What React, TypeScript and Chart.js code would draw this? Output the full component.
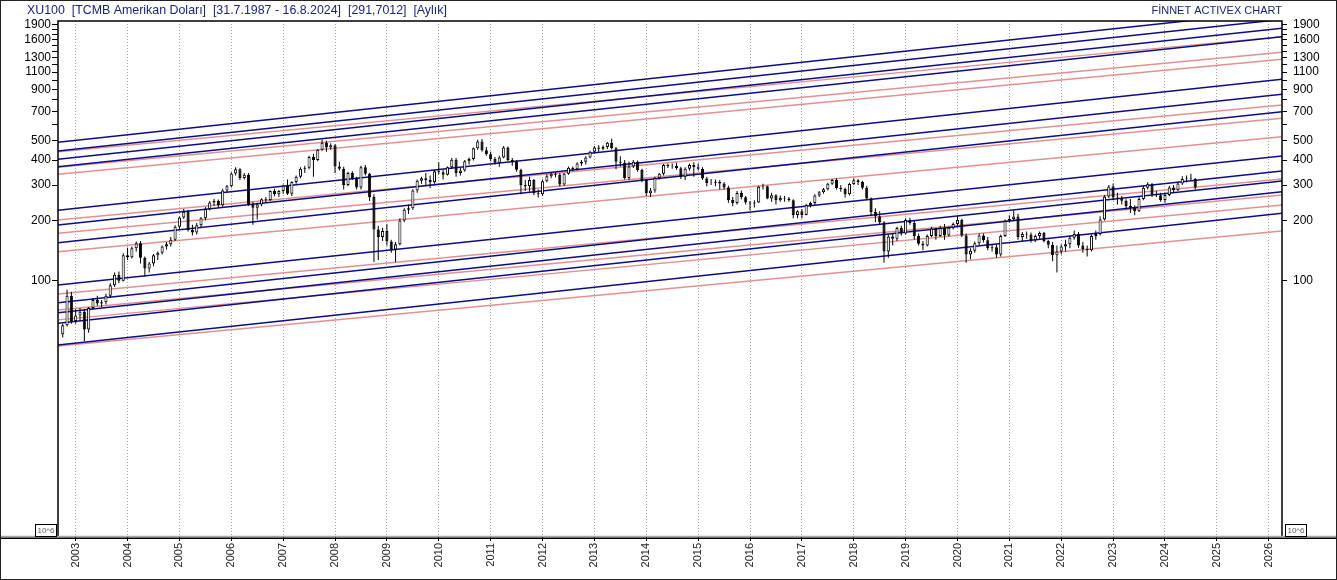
import React, { useEffect, useRef } from "react";
import { Chart, registerables } from "chart.js";

Chart.register(...registerables);

// monthly candles, first one is Oct 2002, last one Aug 2024
const firstYear = 2002;
const firstMonth = 10;

const opens = [
  54, 60, 84,
  63, 67, 70, 57, 73, 80, 77, 78, 84, 95, 107, 100,
  134, 131, 145, 154, 130, 115, 122, 134, 138, 148, 152, 160,
  186, 207, 221, 179, 174, 189, 205, 228, 246, 250, 238, 282,
  296, 343, 360, 326, 338, 241, 231, 240, 255, 253, 280, 270,
  280, 298, 272, 311, 330, 362, 366, 414, 400, 450, 488, 462,
  475, 372, 362, 300, 345, 325, 292, 368, 342, 262, 180, 165,
  177, 157, 143, 152, 200, 226, 230, 282, 315, 325, 318, 310,
  352, 348, 338, 368, 402, 345, 355, 395, 405, 458, 495, 448,
  428, 405, 388, 412, 462, 400, 392, 358, 300, 296, 318, 273,
  270, 314, 332, 342, 338, 302, 342, 366, 360, 385, 392, 412,
  440, 462, 456, 465, 488, 458, 392, 388, 326, 372, 392, 357,
  318, 273, 282, 326, 342, 378, 373, 374, 364, 330, 362, 378,
  368, 362, 324, 307, 308, 312, 306, 292, 253, 244, 274, 261,
  246, 243, 246, 294, 296, 257, 267, 252, 259, 257, 252, 213,
  222, 213, 239, 244, 266, 276, 286, 305, 318, 290, 287, 270,
  304, 317, 311, 291, 257, 220, 210, 196, 140, 166, 162, 183,
  172, 201, 194, 167, 153, 150, 167, 182, 167, 183, 168, 184,
  192, 201, 168, 135, 141, 154, 168, 159, 145, 147, 135, 167,
  199, 203, 209, 165, 171, 170, 159, 167, 173, 158, 151, 134,
  140, 148, 152, 164, 171, 150, 144, 142, 167, 171, 202, 263,
  295, 260, 259, 251, 236, 231, 222, 256, 291, 303, 270, 267,
  253, 268, 292, 283, 306, 322, 324, 322,
];

const highs = [
  61, 90, 88,
  72, 73, 72, 74, 82, 84, 80, 86, 97, 110, 111, 137,
  146, 148, 157, 158, 132, 124, 136, 140, 150, 156, 165, 189,
  209, 228, 226, 190, 194, 208, 233, 250, 256, 254, 288, 300,
  348, 368, 364, 345, 345, 248, 245, 258, 262, 283, 288, 284,
  302, 320, 314, 335, 368, 375, 420, 430, 455, 505, 500, 485,
  480, 392, 370, 350, 352, 330, 375, 378, 346, 270, 188, 184,
  192, 160, 156, 205, 230, 240, 286, 320, 330, 345, 335, 358,
  390, 358, 372, 410, 410, 365, 400, 412, 462, 505, 510, 465,
  440, 415, 420, 470, 468, 410, 400, 362, 318, 330, 322, 285,
  320, 340, 345, 348, 345, 345, 372, 372, 390, 400, 418, 445,
  470, 475, 475, 492, 512, 465, 418, 400, 392, 400, 398, 362,
  322, 290, 330, 345, 382, 385, 385, 388, 370, 368, 385, 390,
  385, 368, 330, 322, 320, 318, 310, 298, 262, 280, 282, 265,
  250, 252, 298, 305, 298, 275, 270, 266, 265, 262, 255, 225,
  228, 242, 248, 270, 280, 290, 308, 322, 325, 300, 292, 308,
  325, 322, 315, 298, 260, 230, 222, 198, 170, 172, 186, 188,
  205, 206, 200, 172, 158, 170, 186, 184, 188, 192, 186, 195,
  210, 204, 172, 145, 157, 172, 172, 165, 152, 152, 170, 202,
  212, 224, 216, 175, 176, 174, 170, 176, 175, 160, 156, 150,
  152, 160, 168, 178, 175, 156, 150, 170, 178, 210, 268, 300,
  305, 275, 265, 255, 256, 238, 262, 298, 310, 307, 280, 275,
  275, 298, 300, 312, 332, 335, 342, 326,
];

const lows = [
  52, 59, 61,
  61, 63, 50, 55, 72, 75, 74, 76, 82, 93, 97, 99,
  127, 129, 140, 122, 105, 110, 118, 127, 135, 143, 148, 158,
  180, 203, 176, 168, 170, 185, 200, 224, 236, 232, 234, 276,
  292, 335, 318, 320, 236, 190, 202, 235, 245, 250, 264, 262,
  272, 268, 265, 305, 325, 345, 360, 330, 395, 445, 440, 450,
  345, 355, 285, 296, 318, 285, 285, 335, 250, 124, 127, 158,
  150, 138, 124, 150, 196, 215, 226, 275, 305, 300, 290, 305,
  340, 320, 335, 362, 330, 335, 350, 380, 398, 450, 440, 420,
  395, 380, 370, 408, 395, 375, 350, 270, 280, 278, 268, 260,
  265, 310, 325, 328, 295, 298, 338, 352, 355, 375, 380, 408,
  435, 440, 448, 455, 452, 360, 372, 320, 318, 365, 350, 310,
  265, 262, 275, 320, 335, 365, 362, 358, 322, 318, 355, 330,
  355, 318, 295, 300, 296, 285, 285, 245, 235, 240, 255, 240,
  225, 232, 244, 285, 255, 248, 240, 248, 248, 248, 205, 205,
  205, 212, 232, 238, 262, 272, 282, 300, 285, 278, 260, 266,
  300, 300, 285, 252, 210, 196, 190, 123, 130, 150, 158, 168,
  170, 190, 160, 150, 142, 148, 165, 160, 165, 160, 166, 180,
  188, 165, 123, 128, 138, 150, 155, 142, 140, 130, 132, 165,
  195, 198, 160, 158, 162, 155, 156, 162, 155, 145, 125, 110,
  135, 140, 145, 160, 146, 138, 132, 140, 160, 168, 200, 258,
  252, 240, 240, 226, 218, 212, 220, 252, 285, 262, 262, 248,
  245, 265, 275, 280, 300, 310, 315, 285,
];

const closes = [
  60, 84, 63,
  67, 70, 57, 73, 80, 77, 78, 84, 95, 107, 100, 134,
  131, 145, 154, 130, 115, 122, 134, 138, 148, 152, 160, 186,
  207, 221, 179, 174, 189, 205, 228, 246, 250, 238, 282, 296,
  343, 360, 326, 338, 241, 231, 240, 255, 253, 280, 270, 280,
  298, 272, 311, 330, 362, 366, 414, 400, 450, 488, 462, 475,
  372, 362, 300, 345, 325, 292, 368, 342, 262, 180, 165, 177,
  157, 143, 152, 200, 226, 230, 282, 315, 325, 318, 310, 352,
  348, 338, 368, 402, 345, 355, 395, 405, 458, 495, 448, 428,
  405, 388, 412, 462, 400, 392, 358, 300, 296, 318, 273, 270,
  314, 332, 342, 338, 302, 342, 366, 360, 385, 392, 412, 440,
  462, 456, 465, 488, 458, 392, 388, 326, 372, 392, 357, 318,
  273, 282, 326, 342, 378, 373, 374, 364, 330, 362, 378, 368,
  362, 324, 307, 308, 312, 306, 292, 253, 244, 274, 261, 246,
  243, 246, 294, 296, 257, 267, 252, 259, 257, 252, 213, 222,
  213, 239, 244, 266, 276, 286, 305, 318, 290, 287, 270, 304,
  317, 311, 291, 257, 220, 210, 196, 140, 166, 162, 183, 172,
  201, 194, 167, 153, 150, 167, 182, 167, 183, 168, 184, 192,
  201, 168, 135, 141, 154, 168, 159, 145, 147, 135, 167, 199,
  203, 209, 165, 171, 170, 159, 167, 173, 158, 151, 134, 140,
  148, 152, 164, 171, 150, 144, 142, 167, 171, 202, 263, 295,
  260, 259, 251, 236, 231, 222, 256, 291, 303, 270, 267, 253,
  268, 292, 283, 306, 322, 324, 322, 292,
];

// channel lines, value at the left and at the right edge of the plot
const lineFrom = 2002.659;
const lineTo = 2026.256;
const blueStart = [490.9, 444.1, 403.7, 370.8, 224.6, 189.7, 154.8, 95.2, 77.7, 69.2, 61.3, 47.7];
const blueEnd = [2228, 2016, 1820, 1653, 1013, 852, 698, 419.4, 352.5, 314.7, 278.2, 217];
const redStart = [440.6, 368.3, 339.8, 201, 172.5, 139.5, 85.8, 71.4, 63.7, 47.2];
const redEnd = [1653, 1381, 1274, 754, 647, 523.5, 322, 267.9, 238.8, 177];

const yearTicks = [
  2003, 2004, 2005, 2006, 2007, 2008, 2009, 2010, 2011, 2012, 2013, 2014,
  2015, 2016, 2017, 2018, 2019, 2020, 2021, 2022, 2023, 2024, 2025, 2026,
];
const priceLabels = [100, 200, 300, 400, 500, 700, 900, 1100, 1300, 1600, 1900];
const priceMinor = [600, 800, 1000, 1200, 1400, 1500, 1700, 1800];

const yMin = 5.253;
const yMax = 1979;

const headerLeft = "XU100  [TCMB Amerikan Doları]  [31.7.1987 - 16.8.2024]  [291,7012]  [Aylık]";
const headerRight = "FİNNET ACTIVEX CHART";

const FONT = "Arial, 'Liberation Sans', sans-serif";

const monthTime = (i: number) => {
  const m = firstMonth - 1 + i;
  return firstYear + Math.floor(m / 12) + (m % 12) / 12;
};

const framePlugin = {
  id: "frame",
  beforeDraw(chart: any) {
    const { ctx, width, height } = chart;
    ctx.save();
    ctx.fillStyle = "#ffffff";
    ctx.fillRect(0, 0, width, height);
    ctx.restore();
  },
  afterDraw(chart: any) {
    const { ctx, chartArea: a, width, height } = chart;
    ctx.save();
    // plot frame
    ctx.strokeStyle = "#000";
    ctx.lineWidth = 1.5;
    ctx.beginPath();
    ctx.moveTo(a.left, a.bottom);
    ctx.lineTo(a.left, a.top);
    ctx.lineTo(a.right, a.top);
    ctx.lineTo(a.right, a.bottom);
    ctx.stroke();
    // bottom double line
    ctx.strokeStyle = "#a8a8a8";
    ctx.lineWidth = 1.5;
    ctx.beginPath();
    ctx.moveTo(0, a.bottom - 0.5);
    ctx.lineTo(width, a.bottom - 0.5);
    ctx.stroke();
    ctx.strokeStyle = "#000";
    ctx.lineWidth = 1.5;
    ctx.beginPath();
    ctx.moveTo(0, a.bottom + 1.3);
    ctx.lineTo(width, a.bottom + 1.3);
    ctx.stroke();
    // outer border
    ctx.lineWidth = 1;
    ctx.strokeStyle = "#222";
    ctx.strokeRect(0.5, 0.5, width - 1, height - 1);
    // header
    ctx.fillStyle = "#1a2580";
    ctx.textBaseline = "alphabetic";
    ctx.textAlign = "left";
    ctx.font = `12.4px ${FONT}`;
    ctx.fillText(headerLeft, 27, 14);
    ctx.textAlign = "right";
    ctx.font = `11px ${FONT}`;
    ctx.fillText(headerRight, a.right, 14);
    // volume scale boxes
    const boxes = [a.left - 23, a.right + 3];
    ctx.font = `8px ${FONT}`;
    ctx.textAlign = "center";
    ctx.textBaseline = "middle";
    boxes.forEach((bx) => {
      ctx.fillStyle = "#fff";
      ctx.fillRect(bx, a.bottom - 13, 21, 12);
      ctx.strokeStyle = "#000";
      ctx.strokeRect(bx + 0.5, a.bottom - 12.5, 21, 12);
      ctx.fillStyle = "#5a6458";
      ctx.fillText("10^6", bx + 11, a.bottom - 6.3);
    });
    ctx.restore();
  },
};

const App: React.FC = () => {
  const canvasRef = useRef<HTMLCanvasElement | null>(null);
  const chartRef = useRef<Chart | null>(null);

  useEffect(() => {
    document.body.style.margin = "0";
    if (!canvasRef.current) return;
    if (chartRef.current) chartRef.current.destroy();

    const times = closes.map((_, i) => monthTime(i));
    const wicks = times.map((t, i) => ({ x: t, y: [lows[i], highs[i]] }));
    const bodies = times.map((t, i) => ({ x: t, y: [opens[i], closes[i]] }));
    const bodyColors = closes.map((c, i) => (c >= opens[i] ? "#ffffff" : "#000000"));

    const blueSets = blueStart.map((v, i) => ({
      type: "line" as const,
      data: [{ x: lineFrom, y: v }, { x: lineTo, y: blueEnd[i] }],
      borderColor: "#0c0c84",
      borderWidth: 1.5,
      pointRadius: 0,
      fill: false,
      order: 3,
    }));
    const redSets = redStart.map((v, i) => ({
      type: "line" as const,
      data: [{ x: lineFrom, y: v }, { x: lineTo, y: redEnd[i] }],
      borderColor: "#e39090",
      borderWidth: 1.4,
      pointRadius: 0,
      fill: false,
      order: 4,
    }));

    const majorY = (v: number) => priceLabels.includes(v);

    chartRef.current = new Chart(canvasRef.current, {
      type: "bar",
      data: {
        datasets: [
          ...redSets,
          ...blueSets,
          {
            type: "bar",
            data: wicks as any,
            backgroundColor: "#000",
            borderWidth: 0,
            grouped: false,
            maxBarThickness: 1,
            inflateAmount: 0,
            order: 2,
          },
          {
            type: "bar",
            data: bodies as any,
            backgroundColor: bodyColors,
            borderColor: "#000",
            borderWidth: 1,
            borderSkipped: false,
            grouped: false,
            maxBarThickness: 3.2,
            inflateAmount: 0,
            order: 1,
          },
        ] as any,
      },
      options: {
        animation: false,
        responsive: false,
        events: [],
        layout: { padding: { top: 21, left: 0, right: 0, bottom: 0 } },
        plugins: { legend: { display: false }, tooltip: { enabled: false } },
        scales: {
          x: {
            type: "linear",
            min: 2002.659,
            max: 2026.256,
            bounds: "data",
            offset: false,
            afterBuildTicks: (s: any) => {
              s.ticks = yearTicks.map((v) => ({ value: v }));
            },
            afterFit: (s: any) => {
              s.height = 43;
            },
            grid: {
              offset: false,
              drawOnChartArea: true,
              color: "#a0a0a0",
              lineWidth: 1,
              tickLength: 4,
              tickColor: "#000",
              tickBorderDash: [],
            },
            border: { display: false, dash: [1, 2] },
            ticks: {
              autoSkip: false,
              minRotation: 90,
              maxRotation: 90,
              padding: 2,
              color: "#222",
              font: { family: FONT, size: 11 },
              callback: (v: any) => String(v),
            },
          },
          y: {
            type: "logarithmic",
            position: "left",
            min: yMin,
            max: yMax,
            bounds: "data",
            afterBuildTicks: (s: any) => {
              s.ticks = [...priceLabels, ...priceMinor].sort((p, q) => p - q).map((v) => ({ value: v }));
            },
            afterFit: (s: any) => {
              s.width = 58;
            },
            grid: { drawOnChartArea: false, color: "#000", tickLength: 6 },
            border: { display: false },
            ticks: {
              autoSkip: false,
              padding: 1,
              color: "#000",
              font: { family: FONT, size: 12 },
              callback: (v: any) => (majorY(Number(v)) ? String(v) : ""),
            },
          },
          y2: {
            type: "logarithmic",
            position: "right",
            min: yMin,
            max: yMax,
            bounds: "data",
            afterBuildTicks: (s: any) => {
              s.ticks = [...priceLabels, ...priceMinor].sort((p, q) => p - q).map((v) => ({ value: v }));
            },
            afterFit: (s: any) => {
              s.width = 55;
            },
            grid: { drawOnChartArea: false, color: "#000", tickLength: 5 },
            border: { display: false },
            ticks: {
              autoSkip: false,
              padding: 6,
              color: "#000",
              font: { family: FONT, size: 12 },
              callback: (v: any) => (majorY(Number(v)) ? String(v) : ""),
            },
          },
        },
      },
      plugins: [framePlugin],
    });

    return () => {
      if (chartRef.current) {
        chartRef.current.destroy();
        chartRef.current = null;
      }
    };
  }, []);

  return (
    <div style={{ width: 1337, height: 580 }}>
      <canvas ref={canvasRef} width={1337} height={580} style={{ display: "block" }} />
    </div>
  );
};

export default App;
